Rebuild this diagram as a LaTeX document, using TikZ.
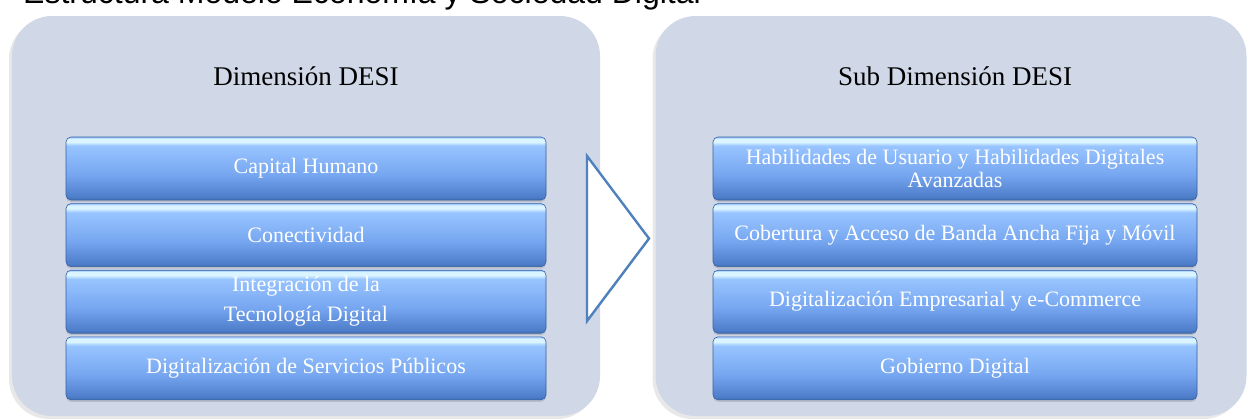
\documentclass[tikz,border=0pt]{standalone}
\usepackage{fontspec}
\setmainfont{Liberation Serif}
\newfontfamily\capfont{Liberation Sans}
\usetikzlibrary{positioning, shadows}

\definecolor{panelgray}{RGB}{208,216,232}
\definecolor{boxedge}{RGB}{56,96,160}
\definecolor{boxbot}{RGB}{64,110,182}
\definecolor{boxdark}{RGB}{78,126,202}
\definecolor{boxmid}{RGB}{118,166,240}
\definecolor{boxtop}{RGB}{152,196,255}
\definecolor{boxshine}{RGB}{218,245,255}
\definecolor{arrowblue}{RGB}{79,129,189}

\pgfdeclareverticalshading{boxgloss}{100bp}{color(0bp)=(boxbot); color(25bp)=(boxbot); color(27.5bp)=(boxdark); color(45bp)=(boxmid); color(68bp)=(boxtop); color(71bp)=(boxshine); color(73.5bp)=(boxshine); color(75bp)=(boxtop); color(100bp)=(boxtop)}

\tikzset{
  panel/.style={fill=panelgray, rounded corners=40pt, inner sep=0pt,
    drop shadow={shadow xshift=-3pt, shadow yshift=-3pt, opacity=0.18}},
  dimbox/.style={shading=boxgloss, draw=boxedge, line width=0.6pt,
    rounded corners=5pt, minimum width=480pt, minimum height=63pt,
    inner sep=0pt, text=white, align=center,
    font=\fontsize{22}{26}\selectfont,
    drop shadow={shadow xshift=0pt, shadow yshift=-2pt, opacity=0.3}},
  paneltitle/.style={font=\fontsize{27}{32}\selectfont, anchor=base, inner sep=0pt},
}

\begin{document}
\begin{tikzpicture}[x=1pt, y=-1pt]
  \useasboundingbox (0,0) rectangle (1249,418);
  \clip (0,0) rectangle (1249,418);

  % caption of the figure, cut off at the top
  \node[font=\capfont\fontsize{32}{36}\selectfont, anchor=base west, inner sep=0pt] (caption)
    at (23,3) {Estructura Modelo Economía y Sociedad Digital};

  % the two panels
  \node[panel, minimum width=588pt, minimum height=400pt] (dimpanel) at (306,216) {};
  \node[panel, minimum width=591pt, minimum height=400pt] (subpanel) at (951,216) {};

  \node[paneltitle] (dimtitle) at (306,85) {Dimensión DESI};
  \node[paneltitle] (subtitle) at (955,85) {Sub Dimensión DESI};

  % arrow between the panels
  \filldraw[fill=white, draw=arrowblue, line width=2.4pt, line join=miter,
    drop shadow={shadow xshift=0pt, shadow yshift=-2pt, opacity=0.2}]
    (587,156) -- (649,238.5) -- (587,321) -- cycle;

  % dimensions
  \node[dimbox] (capital) at (306,168.5) {Capital Humano};
  \node[dimbox, below=3pt of capital] (conect) {Conectividad};
  \node[dimbox, below=3pt of conect, font=\fontsize{22}{30}\selectfont] (integr)
    {Integración de la\\Tecnología Digital};
  \node[dimbox, below=3pt of integr] (servic) {Digitalización de Servicios Públicos};

  % sub dimensions
  \node[dimbox, minimum width=484pt, font=\fontsize{22}{23.5}\selectfont] (habil) at (955,168.5)
    {Habilidades de Usuario y Habilidades Digitales\\Avanzadas};
  \node[dimbox, minimum width=484pt, below=3pt of habil] (cobert)
    {Cobertura y Acceso de Banda Ancha Fija y Móvil};
  \node[dimbox, minimum width=484pt, below=3pt of cobert] (empres)
    {Digitalización Empresarial y e-Commerce};
  \node[dimbox, minimum width=484pt, below=3pt of empres] (gobier) {Gobierno Digital};
\end{tikzpicture}
\end{document}
